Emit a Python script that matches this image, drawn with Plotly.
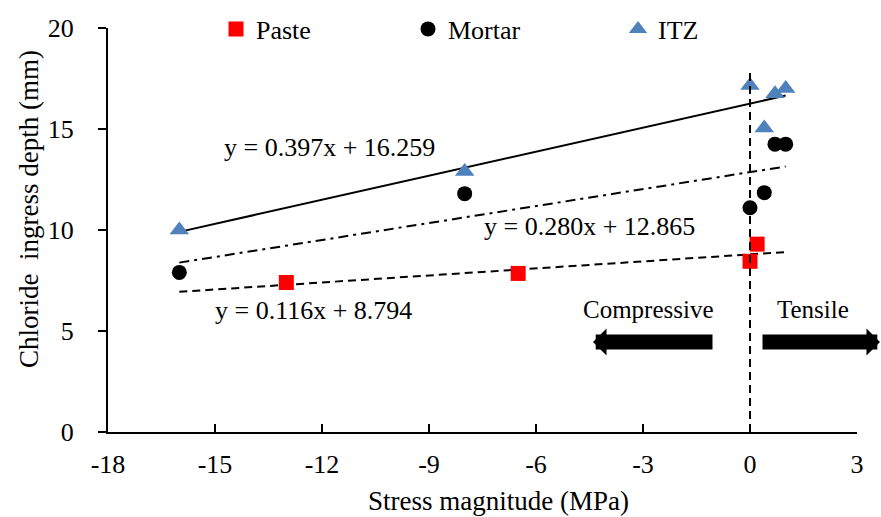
import plotly.graph_objects as go

# ---------------- data ----------------
paste_x = [-13.0, -6.5, 0.0, 0.2]
paste_y = [7.4, 7.85, 8.45, 9.3]

mortar_x = [-16.0, -8.0, 0.0, 0.4, 0.7, 1.0]
mortar_y = [7.9, 11.8, 11.1, 11.85, 14.25, 14.25]

itz_x = [-16.0, -8.0, 0.0, 0.4, 0.7, 1.0]
itz_y = [10.0, 12.9, 17.15, 15.05, 16.75, 17.0]

fit_names = ["Paste", "Mortar", "ITZ"]
fit_slope = [0.116, 0.280, 0.397]
fit_intercept = [8.794, 12.865, 16.259]
fit_xrange = [-16.0, 1.0]

x_ticks = [-18, -15, -12, -9, -6, -3, 0, 3]
x_ticktext = ["-18", "-15", "-12", "-9", "-6", "-3", "0", "3"]
y_ticks = [0, 5, 10, 15, 20]
y_ticktext = ["0", "5", "10", "15", "20"]

FONT = "Liberation Serif, Times New Roman, serif"
BLUE = "#4F81BD"

fig = go.Figure()

# trend lines
dashes = {"Paste": "8px,5px", "Mortar": "10px,5px,3px,5px", "ITZ": "solid"}
for name, m, b in zip(fit_names, fit_slope, fit_intercept):
    xs = list(fit_xrange)
    ys = [m * v + b for v in xs]
    fig.add_trace(go.Scatter(x=xs, y=ys, mode="lines", showlegend=False,
                             line=dict(color="black", width=2, dash=dashes[name]),
                             hoverinfo="skip"))

fig.add_trace(go.Scatter(x=paste_x, y=paste_y, mode="markers", name="Paste",
                         marker=dict(symbol="square", size=15, color="#FF0000"),
                         legend="legend"))
fig.add_trace(go.Scatter(x=mortar_x, y=mortar_y, mode="markers", name="Mortar",
                         marker=dict(symbol="circle", size=15, color="black"),
                         legend="legend2"))
fig.add_trace(go.Scatter(x=itz_x, y=itz_y, mode="markers", name="ITZ",
                         marker=dict(symbol="triangle-up", size=17, color=BLUE),
                         legend="legend3"))

# dashed vertical line at x = 0
fig.add_shape(type="line", xref="x", yref="y", x0=0, x1=0, y0=0, y1=18,
              line=dict(color="black", width=2, dash="8px,5px"))

ann_font = dict(family=FONT, size=26, color="black")
eq_text = ["y = %.3fx + %.3f" % (m, b) for m, b in zip(fit_slope, fit_intercept)]
eq_pos = {"Paste": (-12.25, 6.0), "Mortar": (-4.5, 10.15), "ITZ": (-11.8, 14.1)}
for name, t in zip(fit_names, eq_text):
    px, py = eq_pos[name]
    fig.add_annotation(x=px, y=py, xref="x", yref="y", text=t, showarrow=False,
                       font=ann_font)

small_font = dict(family=FONT, size=25, color="black")
fig.add_annotation(x=-2.84, y=6.05, xref="x", yref="y", text="Compressive",
                   showarrow=False, font=small_font)
fig.add_annotation(x=1.78, y=6.05, xref="x", yref="y", text="Tensile",
                   showarrow=False, font=small_font)

# direction arrows (paper coords)
fig.add_annotation(xref="paper", yref="paper", axref="pixel", ayref="pixel",
                   x=(593 - 108) / 749, y=(432 - 342) / 404, ax=121, ay=0,
                   text="", showarrow=True, arrowhead=1, arrowsize=0.3,
                   arrowwidth=15, arrowcolor="black")
fig.add_annotation(xref="paper", yref="paper", axref="pixel", ayref="pixel",
                   x=(881 - 108) / 749, y=(432 - 342) / 404, ax=-120, ay=0,
                   text="", showarrow=True, arrowhead=1, arrowsize=0.3,
                   arrowwidth=15, arrowcolor="black")

# axis titles as annotations (placed like the reference)
title_font = dict(family=FONT, size=27, color="black")
fig.add_annotation(xref="paper", yref="paper", x=(498 - 108) / 749,
                   y=(432 - 501) / 404, text="Stress magnitude (MPa)",
                   showarrow=False, font=title_font, yanchor="middle")
fig.add_annotation(xref="paper", yref="paper", x=(29 - 108) / 749,
                   y=(432 - 209) / 404, text="Chloride  ingress depth (mm)",
                   textangle=-90, showarrow=False, font=title_font,
                   xanchor="center", yanchor="middle")

axis_common = dict(showline=True, linecolor="black", linewidth=2, showgrid=False,
                   zeroline=False, tickcolor="black", tickwidth=1.5,
                   tickfont=dict(family=FONT, size=26, color="black"))

fig.update_xaxes(range=[-18, 3], tickvals=x_ticks, ticktext=x_ticktext,
                 ticks="inside", ticklen=8, ticklabelstandoff=8,
                 **axis_common)
fig.update_yaxes(range=[0, 20], tickvals=y_ticks, ticktext=y_ticktext,
                 ticks="outside", ticklen=8, ticklabelstandoff=19,
                 **axis_common)

W, H = 881, 517
leg_common = dict(orientation="h", yanchor="middle", yref="container",
                  y=1 - 29 / H, xanchor="left", xref="container",
                  bgcolor="rgba(0,0,0,0)", borderwidth=0,
                  font=dict(family=FONT, size=26, color="black"))
fig.update_layout(
    width=W, height=H,
    margin=dict(l=108, r=24, t=28, b=85, autoexpand=False),
    paper_bgcolor="white", plot_bgcolor="white",
    legend=dict(x=216 / W, **leg_common),
    legend2=dict(x=408 / W, **leg_common),
    legend3=dict(x=618 / W, **leg_common),
    showlegend=True,
)

fig.write_html("out.html")
